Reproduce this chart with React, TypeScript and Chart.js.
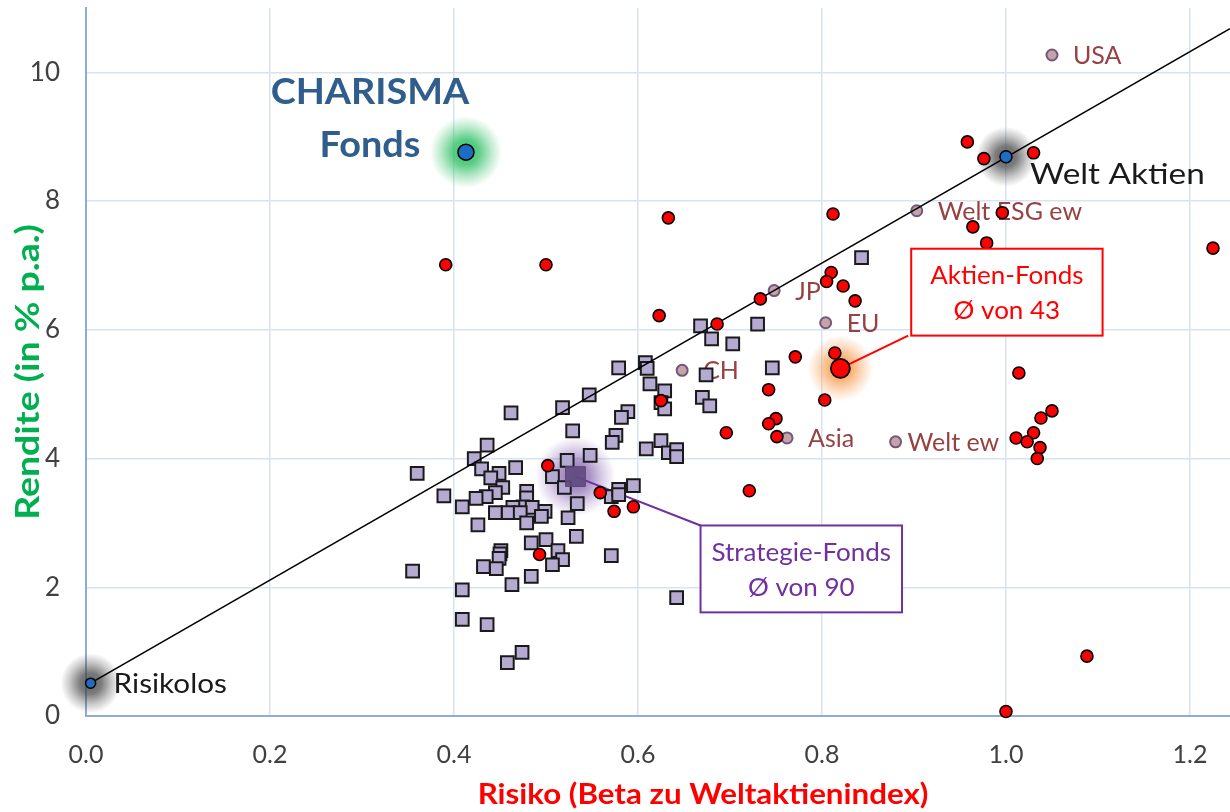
import { useEffect, useRef } from 'react';
import { Chart, registerables } from 'chart.js';

Chart.register(...registerables);

// ---- Data ----
const xTicks = [0, 0.2, 0.4, 0.6, 0.8, 1.0, 1.2];
const yTicks = [0, 2, 4, 6, 8, 10];

// Strategie-Fonds (90)
const strategieX = [
  0.843, 0.668, 0.730, 0.680, 0.703, 0.579, 0.608, 0.610, 0.746, 0.674,
  0.547, 0.518, 0.613, 0.629, 0.625, 0.629, 0.670, 0.678, 0.589, 0.582,
  0.529, 0.576, 0.572, 0.609, 0.625, 0.633, 0.642, 0.642, 0.548, 0.523,
  0.462, 0.436, 0.422, 0.430, 0.449, 0.440, 0.467, 0.360, 0.507, 0.520,
  0.453, 0.445, 0.435, 0.424, 0.389, 0.409, 0.479, 0.479, 0.475, 0.464,
  0.485, 0.445, 0.459, 0.472, 0.479, 0.499, 0.495, 0.534, 0.524, 0.426,
  0.571, 0.579, 0.579, 0.595, 0.533, 0.484, 0.500, 0.513, 0.518, 0.507,
  0.451, 0.450, 0.449, 0.432, 0.446, 0.571, 0.484, 0.463, 0.355, 0.409,
  0.409, 0.436, 0.474, 0.458, 0.642,
];
const strategieY = [
  7.12, 6.06, 6.09, 5.86, 5.78, 5.41, 5.49, 5.40, 5.41, 5.30,
  4.99, 4.79, 5.16, 5.05, 4.87, 4.77, 4.95, 4.82, 4.73, 4.64,
  4.43, 4.36, 4.25, 4.15, 4.28, 4.09, 4.14, 4.03, 4.05, 3.97,
  4.71, 4.21, 4.00, 3.84, 3.77, 3.70, 3.86, 3.77, 3.72, 3.55,
  3.55, 3.47, 3.41, 3.38, 3.42, 3.25, 3.49, 3.39, 3.25, 3.24,
  3.24, 3.16, 3.16, 3.16, 3.00, 3.18, 3.10, 3.30, 3.08, 2.97,
  3.41, 3.52, 3.44, 3.58, 2.79, 2.69, 2.74, 2.57, 2.43, 2.35,
  2.57, 2.52, 2.45, 2.32, 2.29, 2.49, 2.17, 2.04, 2.25, 1.96,
  1.50, 1.42, 0.99, 0.83, 1.84,
];

// Aktien-Fonds (43)
const aktienX = [
  0.391, 0.500, 0.633, 0.623, 0.686, 0.733, 0.812, 0.810, 0.805, 0.823,
  0.836, 0.771, 0.814, 0.742, 0.803, 0.625, 0.750, 0.742, 0.696, 0.751,
  0.502, 0.559, 0.574, 0.595, 0.721, 0.493, 0.958, 0.976, 1.030, 0.996,
  0.964, 0.979, 1.225, 1.014, 1.050, 1.038, 1.030, 1.011, 1.023, 1.037,
  1.034, 1.088, 1.000,
];
const aktienY = [
  7.01, 7.01, 7.74, 6.22, 6.09, 6.48, 7.80, 6.89, 6.75, 6.68,
  6.45, 5.58, 5.64, 5.07, 4.91, 4.90, 4.62, 4.54, 4.40, 4.34,
  3.89, 3.47, 3.18, 3.25, 3.50, 2.51, 8.92, 8.66, 8.75, 7.82,
  7.60, 7.35, 7.27, 5.33, 4.74, 4.63, 4.40, 4.32, 4.26, 4.17,
  4.00, 0.93, 0.07,
];

// Indizes
const indexNames = ['USA', 'Welt ESG ew', 'JP', 'EU', 'CH', 'Asia', 'Welt ew'];
const indexX = [1.050, 0.903, 0.748, 0.804, 0.648, 0.762, 0.880];
const indexY = [10.27, 7.85, 6.61, 6.11, 5.37, 4.32, 4.26];

// Besondere Punkte
const specialNames = ['CHARISMA Fonds', 'Welt Aktien', 'Risikolos'];
const specialX = [0.413, 1.0, 0.005];
const specialY = [8.76, 8.69, 0.51];

// Durchschnitte
const avgNames = ['Aktien-Fonds', 'Strategie-Fonds'];
const avgCounts = [43, 90];
const avgX = [0.820, 0.532];
const avgY = [5.40, 3.72];

// Linie Risikolos -> Welt Aktien (verlängert)
const lineX = [0.005, 1.2435];
const lineY = [0.51, 10.68];

// Annotation boxes [xLeft, xRight, yTop, yBottom] in data units
const boxAktien = [0.897, 1.105, 7.26, 5.91];
const boxStrategie = [0.668, 0.887, 2.96, 1.61];

const xTitle = 'Risiko (Beta zu Weltaktienindex)';
const yTitle = 'Rendite (in % p.a.)';

const FONT = 'Lato, "Noto Sans", sans-serif';

const toPts = (xs: number[], ys: number[]) => xs.map((x, i) => ({ x, y: ys[i] }));

function glow(ctx: CanvasRenderingContext2D, x: number, y: number, r: number, rgb: string, a: number) {
  const g = ctx.createRadialGradient(x, y, 0, x, y, r);
  g.addColorStop(0, `rgba(${rgb},${a})`);
  g.addColorStop(0.35, `rgba(${rgb},${a * 0.85})`);
  g.addColorStop(0.7, `rgba(${rgb},${a * 0.35})`);
  g.addColorStop(1, `rgba(${rgb},0)`);
  ctx.fillStyle = g;
  ctx.beginPath();
  ctx.arc(x, y, r, 0, Math.PI * 2);
  ctx.fill();
}

function txt(
  ctx: CanvasRenderingContext2D, s: string, x: number, y: number,
  font: string, color: string, align: CanvasTextAlign, stretch = 1, rot = 0,
) {
  ctx.save();
  ctx.translate(x, y);
  if (rot) ctx.rotate(rot);
  ctx.scale(stretch, 1);
  ctx.font = font;
  ctx.fillStyle = color;
  ctx.textAlign = align;
  ctx.textBaseline = 'middle';
  ctx.fillText(s, 0, 0);
  ctx.restore();
}

const overlayPlugin = {
  id: 'overlay',
  beforeDatasetsDraw(chart: any) {
    const { ctx, scales } = chart;
    const sx = scales.x, sy = scales.y;
    const px = (v: number) => sx.getPixelForValue(v);
    const py = (v: number) => sy.getPixelForValue(v);
    ctx.save();

    // glows
    glow(ctx, px(specialX[0]), py(specialY[0]), 36, '40,190,95', 0.9);
    glow(ctx, px(specialX[1]), py(specialY[1]), 30, '60,60,60', 0.8);
    glow(ctx, px(specialX[2]), py(specialY[2]), 30, '60,60,60', 0.8);
    glow(ctx, px(avgX[0]), py(avgY[0]), 33, '247,150,70', 0.85);
    glow(ctx, px(avgX[1]), py(avgY[1]), 40, '112,70,160', 0.7);

    // connectors
    ctx.lineWidth = 2;
    ctx.strokeStyle = '#ff0000';
    ctx.beginPath();
    ctx.moveTo(px(avgX[0]), py(avgY[0]));
    ctx.lineTo(px(boxAktien[0]) - 3, py(boxAktien[3]));
    ctx.stroke();
    ctx.strokeStyle = '#7030a0';
    ctx.beginPath();
    ctx.moveTo(px(avgX[1]), py(avgY[1]));
    ctx.lineTo(px(boxStrategie[0]), py(boxStrategie[2]));
    ctx.stroke();

    // index labels
    indexNames.forEach((n, i) => {
      const dx = n === 'Welt ew' ? 12 : 21;
      txt(ctx, n, px(indexX[i]) + dx, py(indexY[i]) + 1, `25px ${FONT}`, '#974242', 'left');
    });

    // special labels
    txt(ctx, specialNames[1], px(specialX[1]) + 24, py(specialY[1]) + 18, `29px ${FONT}`, '#1a1a1a', 'left', 1.15);
    txt(ctx, specialNames[2], px(specialX[2]) + 23, py(specialY[2]) + 1, `27px ${FONT}`, '#1a1a1a', 'left', 1.1);

    const [w1, w2] = specialNames[0].split(' ');
    txt(ctx, w1, px(specialX[0]) - 96, py(specialY[0]) - 60, `bold 36px ${FONT}`, '#2f5d8c', 'center', 1.05);
    txt(ctx, w2, px(specialX[0]) - 96, py(specialY[0]) - 7, `bold 36px ${FONT}`, '#2f5d8c', 'center', 1.05);

    ctx.restore();
  },
  afterDatasetsDraw(chart: any) {
    const { ctx, scales } = chart;
    const sx = scales.x, sy = scales.y;
    const px = (v: number) => sx.getPixelForValue(v);
    const py = (v: number) => sy.getPixelForValue(v);
    ctx.save();
    const drawBox = (b: number[], color: string, name: string, count: number) => {
      const l = px(b[0]), r = px(b[1]), t = py(b[2]), bt = py(b[3]);
      ctx.fillStyle = '#ffffff';
      ctx.fillRect(l, t, r - l, bt - t);
      ctx.lineWidth = 2;
      ctx.strokeStyle = color;
      ctx.strokeRect(l, t, r - l, bt - t);
      const cx = (l + r) / 2;
      txt(ctx, name, cx, t + 27, `25px ${FONT}`, color, 'center', 1.04);
      txt(ctx, `Ø von ${count}`, cx, t + 62, `25px ${FONT}`, color, 'center', 1.04);
    };
    drawBox(boxAktien, '#ff0000', avgNames[0], avgCounts[0]);
    drawBox(boxStrategie, '#7030a0', avgNames[1], avgCounts[1]);
    ctx.restore();
  },
  afterDraw(chart: any) {
    const { ctx } = chart;
    txt(ctx, xTitle, 703, 795, `bold 29px ${FONT}`, '#ff0000', 'center', 1.08);
    txt(ctx, yTitle, 29, 372, `bold 32px ${FONT}`, '#00b050', 'center', 1.17, -Math.PI / 2);
  },
};

export default function App() {
  const ref = useRef<HTMLCanvasElement | null>(null);

  useEffect(() => {
    if (!ref.current) return;
    const chart = new Chart(ref.current, {
      type: 'scatter',
      data: {
        datasets: [
          {
            label: 'Besondere Punkte',
            data: toPts(specialX, specialY),
            pointRadius: [8, 6, 5],
            pointBackgroundColor: '#1c6dc4',
            pointBorderColor: '#000000',
            pointBorderWidth: 1.5,
            clip: false,
          } as any,
          {
            label: 'Durchschnitt',
            data: toPts(avgX, avgY),
            pointStyle: ['circle', 'rect'],
            pointRadius: [9.5, 14],
            pointBackgroundColor: ['#ff0000', 'rgba(96,74,128,0.9)'],
            pointBorderColor: ['#000000', '#5a4878'],
            pointBorderWidth: [1.8, 1],
            clip: false,
          } as any,
          {
            label: 'Aktien-Fonds',
            data: toPts(aktienX, aktienY),
            pointRadius: 6,
            pointBackgroundColor: '#ff0000',
            pointBorderColor: '#000000',
            pointBorderWidth: 1.6,
            clip: false,
          } as any,
          {
            label: 'Linie',
            type: 'line',
            data: toPts(lineX, lineY),
            borderColor: '#000000',
            borderWidth: 1.6,
            pointRadius: 0,
            fill: false,
          } as any,
          {
            label: 'Indizes',
            data: toPts(indexX, indexY),
            pointRadius: 5.5,
            pointBackgroundColor: '#c8a2aa',
            pointBorderColor: '#6e5a78',
            pointBorderWidth: 2,
            clip: false,
          } as any,
          {
            label: 'Strategie-Fonds',
            data: toPts(strategieX, strategieY),
            pointStyle: 'rect',
            pointRadius: 9,
            pointBackgroundColor: '#b5aad2',
            pointBorderColor: '#1a1a1a',
            pointBorderWidth: 2,
            clip: false,
          } as any,
        ],
      },
      options: {
        responsive: false,
        animation: false,
        layout: { autoPadding: false, padding: { top: 8, right: 0, left: 0, bottom: 0 } },
        plugins: {
          legend: { display: false },
          tooltip: { enabled: false },
        },
        scales: {
          x: {
            type: 'linear',
            min: 0,
            max: 1.2435,
            afterBuildTicks: (s: any) => {
              s.ticks = xTicks.map((v) => ({ value: v }));
            },
            afterFit: (s: any) => {
              s.height = 96;
              s.paddingLeft = 0;
              s.paddingRight = 0;
            },
            grid: { color: '#d8e3f2', lineWidth: 1.5, drawTicks: false },
            border: { color: '#8faadc', width: 2 },
            ticks: {
              padding: 24,
              color: '#404040',
              font: { family: FONT, size: 25 },
              callback: (v: any) => Number(v).toFixed(1),
            },
          },
          y: {
            type: 'linear',
            min: 0,
            max: 11,
            afterBuildTicks: (s: any) => {
              s.ticks = yTicks.map((v) => ({ value: v }));
            },
            afterFit: (s: any) => {
              s.width = 86;
              s.paddingTop = 0;
              s.paddingBottom = 0;
            },
            grid: { color: '#d8e3f2', lineWidth: 1.5, drawTicks: false },
            border: { color: '#8faadc', width: 2 },
            ticks: {
              padding: 26,
              color: '#404040',
              font: { family: FONT, size: 26 },
              callback: (v: any) => String(v),
            },
          },
        },
      },
      plugins: [overlayPlugin],
    });
    return () => chart.destroy();
  }, []);

  return (
    <div style={{ position: 'fixed', left: 0, top: 0, width: 1230, height: 812, background: '#ffffff' }}>
      <canvas ref={ref} width={1230} height={812} style={{ display: 'block' }} />
    </div>
  );
}
